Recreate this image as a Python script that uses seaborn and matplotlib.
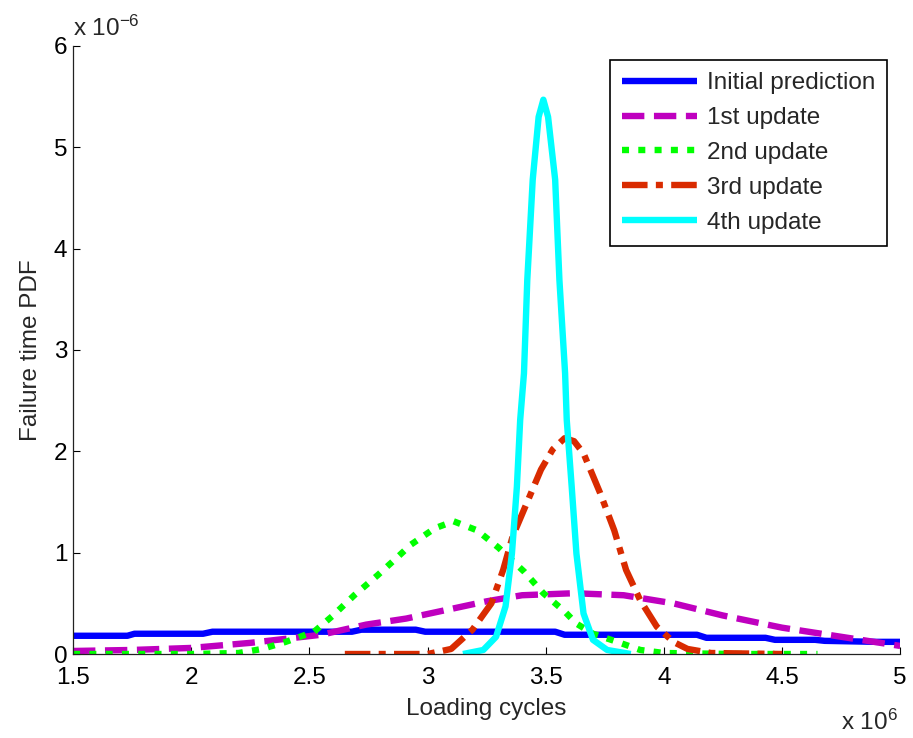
import numpy as np
import pandas as pd
import matplotlib
matplotlib.use("Agg")
import matplotlib.pyplot as plt
import seaborn as sns

# ---- data (x in 1e6 loading cycles, y in 1e-6 PDF) ----
x_init = [1.5, 1.73, 1.76, 2.05, 2.09, 2.68, 2.72, 2.95, 2.99, 3.54, 3.58, 4.14, 4.18, 4.43, 4.47, 4.64, 4.68, 4.9, 5.0]
y_init = [0.18, 0.18, 0.20, 0.20, 0.22, 0.22, 0.24, 0.24, 0.22, 0.22, 0.19, 0.19, 0.16, 0.16, 0.14, 0.14, 0.13, 0.12, 0.12]

x_1st = [1.5, 1.75, 2.0, 2.25, 2.55, 2.74, 2.91, 3.05, 3.25, 3.4, 3.62, 3.83, 4.04, 4.25, 4.5, 4.75, 5.0]
y_1st = [0.03, 0.04, 0.06, 0.11, 0.19, 0.29, 0.35, 0.42, 0.52, 0.58, 0.60, 0.58, 0.50, 0.38, 0.26, 0.17, 0.08]

x_2nd = [1.5, 2.0, 2.2, 2.3, 2.4, 2.52, 2.6, 2.69, 2.79, 2.87, 2.93, 3.03, 3.11, 3.21, 3.3, 3.41, 3.49, 3.58, 3.63, 3.70, 3.79, 3.9, 4.0, 4.3, 4.65]
y_2nd = [0.0, 0.0, 0.01, 0.05, 0.12, 0.22, 0.38, 0.58, 0.78, 0.95, 1.08, 1.24, 1.31, 1.22, 1.05, 0.81, 0.60, 0.42, 0.30, 0.20, 0.13, 0.04, 0.01, 0.0, 0.0]

x_3rd = [2.65, 3.0, 3.1, 3.19, 3.27, 3.32, 3.36, 3.42, 3.48, 3.53, 3.58, 3.62, 3.66, 3.73, 3.79, 3.84, 3.9, 3.97, 4.04, 4.1, 4.2, 4.5]
y_3rd = [0.0, 0.0, 0.05, 0.24, 0.50, 0.83, 1.16, 1.49, 1.82, 2.02, 2.13, 2.10, 1.98, 1.59, 1.22, 0.83, 0.53, 0.27, 0.12, 0.05, 0.01, 0.0]

x_4th = [3.15, 3.236, 3.29, 3.33, 3.357, 3.378, 3.392, 3.408, 3.422, 3.445, 3.47, 3.49, 3.51, 3.54, 3.558, 3.582, 3.589, 3.61, 3.63, 3.66, 3.70, 3.76, 3.86]
y_4th = [0.0, 0.04, 0.17, 0.47, 0.99, 1.65, 2.31, 2.77, 3.69, 4.68, 5.3, 5.47, 5.3, 4.68, 3.69, 2.77, 2.31, 1.65, 0.99, 0.40, 0.14, 0.04, 0.0]

labels = ["Initial prediction", "1st update", "2nd update", "3rd update", "4th update"]
x_ticks = [1.5, 2, 2.5, 3, 3.5, 4, 4.5, 5]
x_tick_labels = ["1.5", "2", "2.5", "3", "3.5", "4", "4.5", "5"]
y_ticks = [0, 1, 2, 3, 4, 5, 6]

sns.set_style("white")
plt.rcParams["font.family"] = ["Liberation Sans", "DejaVu Sans"]
plt.rcParams["mathtext.fontset"] = "custom"
plt.rcParams["mathtext.rm"] = "Liberation Sans"
plt.rcParams["mathtext.it"] = "Liberation Sans"

FS = 17.5
fig = plt.figure(figsize=(9.13, 7.38), dpi=100)
ax = fig.add_axes([0.080, 0.1138, 0.906, 0.8239])

series = [
    (x_init, y_init, "#0000FF", None),
    (x_1st, y_1st, "#BF00BF", (3.5, 1.5)),
    (x_2nd, y_2nd, "#00FF00", (1.1, 1.45)),
    (x_3rd, y_3rd, "#D92B00", (4.0, 1.3, 1.1, 1.3)),
    (x_4th, y_4th, "#00FFFF", None),
]
lw = 4.6
for (xs, ys, col, dash), lab in zip(series, labels):
    df = pd.DataFrame({"x": xs, "y": ys})
    sns.lineplot(data=df, x="x", y="y", ax=ax, color=col, lw=lw,
                 label=lab, sort=False, estimator=None)
    ln = ax.get_lines()[-1]
    ln.set_solid_capstyle("butt")
    ln.set_solid_joinstyle("round")
    ln.set_dash_capstyle("butt")
    if dash is not None:
        ln.set_dashes(dash)

ax.set_xlim(1.5, 5)
ax.set_ylim(0, 6)
ax.set_xticks(x_ticks)
ax.set_xticklabels(x_tick_labels)
ax.set_yticks(y_ticks)
ax.tick_params(direction="in", length=5, width=0.8, labelsize=FS, colors="black",
               bottom=True, left=True)
ax.tick_params(axis="x", pad=9.5)
ax.tick_params(axis="y", pad=4.0)
for s in ["top", "right"]:
    ax.spines[s].set_visible(False)
for s in ["left", "bottom"]:
    ax.spines[s].set_color("#222222")
    ax.spines[s].set_linewidth(0.9)

ax.set_xlabel("Loading cycles", fontsize=FS)
ax.set_ylabel("Failure time PDF", fontsize=FS)
ax.xaxis.set_label_coords(0.5, -0.073)
ax.yaxis.set_label_coords(-0.038, 0.5)

ax.text(0.0, 1.009, r"x 10$^{-6}$", transform=ax.transAxes, fontsize=FS, ha="left", va="bottom")
fig.text(0.921, 0.004, r"x 10$^{6}$", fontsize=FS, ha="left", va="bottom")

leg = ax.legend(loc="upper right", bbox_to_anchor=(0.9843, 0.977), fontsize=FS, frameon=True,
                fancybox=False, edgecolor="black", handlelength=3.1, handletextpad=0.38,
                labelspacing=0.53, borderpad=0.5, borderaxespad=0.0)
leg.get_frame().set_linewidth(1.2)
leg.get_frame().set_facecolor("white")
leg.get_frame().set_alpha(1.0)

fig.savefig("out.png", dpi=100)
